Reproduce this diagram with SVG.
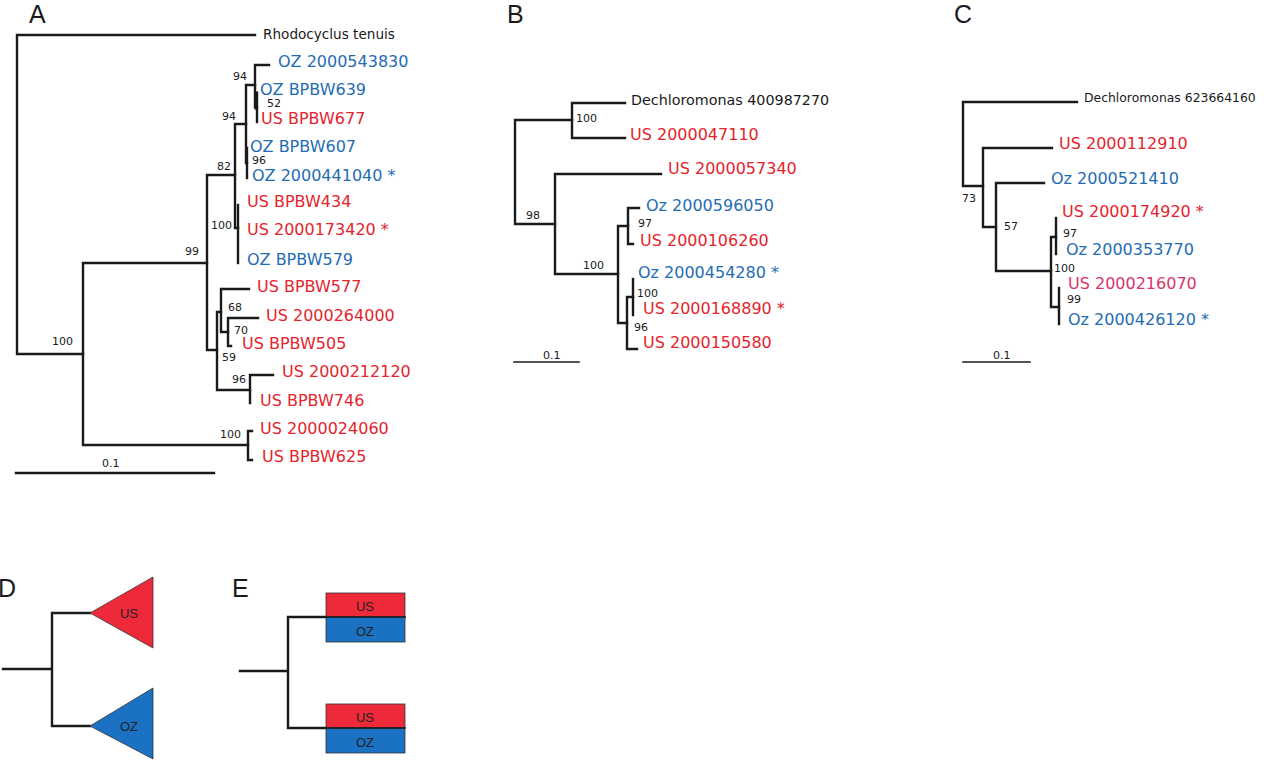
<svg xmlns="http://www.w3.org/2000/svg" width="1280" height="762" viewBox="0 0 1280 762">
<style>
.bg{fill:#ffffff}
.ln{fill:none;stroke:#1a1a1a;stroke-width:2.4;stroke-linecap:square}
.t{font-family:"DejaVu Sans",Verdana,sans-serif;font-size:16px}
.us{fill:#e5232c}
.oz{fill:#1f6cb5}
.pk{fill:#d9336a}
.bk{fill:#1a1a1a}
.bs{font-family:"DejaVu Sans",Verdana,sans-serif;font-size:11px;fill:#1a1a1a}
.pl{font-family:"Liberation Sans",Arial,sans-serif;font-size:25px;fill:#1a1a1a}
.tri{stroke:#333;stroke-width:0.8}
.box{font-family:"Liberation Sans",Arial,sans-serif;font-size:13px;fill:#222;text-anchor:middle}
</style>
<rect class="bg" x="0" y="0" width="1280" height="762"/>

<g id="panel-labels">
<text class="pl" x="29" y="23">A</text>
<text class="pl" x="507" y="23">B</text>
<text class="pl" x="954" y="23">C</text>
<text class="pl" x="-2" y="597">D</text>
<text class="pl" x="232" y="597">E</text>
</g>

<g id="connectors">
<!-- Panel A -->
<path class="ln" d="M17,35 H255 M17,35 V354 M17,354 H83"/>
<path class="ln" d="M83,263 V445 M83,263 H207 M83,445 H248"/>
<path class="ln" d="M248,431 V460 M248,431 H252 M248,460 H252"/>
<path class="ln" d="M207,175 V350 M207,175 H235 M207,350 H217"/>
<path class="ln" d="M235,124 V228 M235,228 H238 M235,124 H246"/>
<path class="ln" d="M238,205 V263"/>
<path class="ln" d="M246,85 V163 M246,85 H255 M246,163 H247"/>
<path class="ln" d="M247,148 V178"/>
<path class="ln" d="M255,65 V107 M255,65 H269 M255,107 H257"/>
<path class="ln" d="M257,93 V122"/>
<path class="ln" d="M256,93 V108" style="stroke-width:3.2"/>
<path class="ln" d="M217,312 V390 M217,312 H221 M217,390 H250"/>
<path class="ln" d="M221,289 V332 M221,289 H249 M221,332 H228"/>
<path class="ln" d="M228,318 V346 M228,318 H258 M228,346 H231"/>
<path class="ln" d="M250,375 V403 M250,375 H273"/>
<path class="ln" d="M16,473 H214"/>
<!-- Panel B -->
<path class="ln" d="M515,120 V224 M515,120 H572 M515,224 H555"/>
<path class="ln" d="M572,103 V138 M572,103 H625 M572,138 H625"/>
<path class="ln" d="M555,174 V274 M555,174 H661 M555,274 H618"/>
<path class="ln" d="M618,226 V323 M618,226 H628 M618,323 H627"/>
<path class="ln" d="M628,208 V244 M628,208 H639 M628,244 H633"/>
<path class="ln" d="M627,297 V349 M627,297 H633 M627,349 H637"/>
<path class="ln" d="M633,279 V315"/>
<path class="ln" d="M514,362 H579" style="stroke-width:1.6"/>
<!-- Panel C -->
<path class="ln" d="M963,102 V186 M963,102 H1077 M963,186 H983"/>
<path class="ln" d="M983,148 V227 M983,148 H1052 M983,227 H996"/>
<path class="ln" d="M996,183 V271 M996,183 H1044 M996,271 H1051"/>
<path class="ln" d="M1051,237 V307 M1051,237 H1056 M1051,307 H1059"/>
<path class="ln" d="M1056,218 V254"/>
<path class="ln" d="M1059,288 V324"/>
<path class="ln" d="M963,362 H1030" style="stroke-width:1.6"/>
<!-- Panel D -->
<path class="ln" d="M3,669 H52 M52,613 V726 M52,613 H90 M52,726 H90"/>
<!-- Panel E -->
<path class="ln" d="M240,671 H288 M288,617 V728 M288,617 H326 M288,728 H326"/>
</g>

<g id="panel-A-labels">
<text class="t bk" x="263" y="39" style="font-size:13.6px">Rhodocyclus tenuis</text>
<text class="t oz" x="278" y="67">OZ 2000543830</text>
<text class="t oz" x="260" y="95">OZ BPBW639</text>
<text class="t us" x="261" y="124">US BPBW677</text>
<text class="t oz" x="250" y="152">OZ BPBW607</text>
<text class="t oz" x="252" y="181">OZ 2000441040 *</text>
<text class="t us" x="247" y="207">US BPBW434</text>
<text class="t us" x="247" y="235">US 2000173420 *</text>
<text class="t oz" x="247" y="265">OZ BPBW579</text>
<text class="t us" x="257" y="292">US BPBW577</text>
<text class="t us" x="266" y="321">US 2000264000</text>
<text class="t us" x="242" y="349">US BPBW505</text>
<text class="t us" x="282" y="377">US 2000212120</text>
<text class="t us" x="260" y="406">US BPBW746</text>
<text class="t us" x="260" y="434">US 2000024060</text>
<text class="t us" x="262" y="462">US BPBW625</text>
<text class="bs" x="233" y="80">94</text>
<text class="bs" x="267" y="107">52</text>
<text class="bs" x="222" y="120">94</text>
<text class="bs" x="252" y="164">96</text>
<text class="bs" x="217" y="170">82</text>
<text class="bs" x="211" y="229">100</text>
<text class="bs" x="185" y="255">99</text>
<text class="bs" x="228" y="311">68</text>
<text class="bs" x="234" y="334">70</text>
<text class="bs" x="52" y="345">100</text>
<text class="bs" x="222" y="361">59</text>
<text class="bs" x="232" y="383">96</text>
<text class="bs" x="220" y="438">100</text>
<text class="bs" x="102" y="467">0.1</text>
</g>

<g id="panel-B-labels">
<text class="t bk" x="631" y="105" style="font-size:14.3px">Dechloromonas 400987270</text>
<text class="t us" x="630" y="140">US 2000047110</text>
<text class="t us" x="668" y="174">US 2000057340</text>
<text class="t oz" x="646" y="211">Oz 2000596050</text>
<text class="t us" x="640" y="246">US 2000106260</text>
<text class="t oz" x="638" y="278">Oz 2000454280 *</text>
<text class="t us" x="643" y="314">US 2000168890 *</text>
<text class="t us" x="643" y="348">US 2000150580</text>
<text class="bs" x="576" y="122">100</text>
<text class="bs" x="526" y="219">98</text>
<text class="bs" x="638" y="227">97</text>
<text class="bs" x="583" y="269">100</text>
<text class="bs" x="637" y="297">100</text>
<text class="bs" x="634" y="331">96</text>
<text class="bs" x="543" y="359">0.1</text>
</g>

<g id="panel-C-labels">
<text class="t bk" x="1084" y="102" style="font-size:12.4px">Dechloromonas 623664160</text>
<text class="t us" x="1059" y="149">US 2000112910</text>
<text class="t oz" x="1051" y="184">Oz 2000521410</text>
<text class="t us" x="1062" y="217">US 2000174920 *</text>
<text class="t oz" x="1066" y="255">Oz 2000353770</text>
<text class="t pk" x="1068" y="289">US 2000216070</text>
<text class="t oz" x="1068" y="325">Oz 2000426120 *</text>
<text class="bs" x="962" y="202">73</text>
<text class="bs" x="1004" y="230">57</text>
<text class="bs" x="1063" y="237">97</text>
<text class="bs" x="1054" y="272">100</text>
<text class="bs" x="1067" y="303">99</text>
<text class="bs" x="993" y="359">0.1</text>
</g>

<g id="node-D-US">
<polygon class="tri" points="90,613 153,577 153,648" fill="#ee2a3a"/>
<text class="box" x="129" y="618">US</text>
</g>
<g id="node-D-OZ">
<polygon class="tri" points="90,726 153,688 153,759" fill="#1b72c2"/>
<text class="box" x="129" y="731">OZ</text>
</g>

<g id="node-E-top">
<rect x="326" y="593" width="79" height="24" fill="#ee2a3a" stroke="#333" stroke-width="0.8"/>
<rect x="326" y="617" width="79" height="25" fill="#1b72c2" stroke="#333" stroke-width="0.8"/>
<text class="box" x="365" y="611">US</text>
<text class="box" x="365" y="636">OZ</text>
</g>
<g id="node-E-bottom">
<rect x="326" y="704" width="79" height="24" fill="#ee2a3a" stroke="#333" stroke-width="0.8"/>
<rect x="326" y="728" width="79" height="25" fill="#1b72c2" stroke="#333" stroke-width="0.8"/>
<text class="box" x="365" y="722">US</text>
<text class="box" x="365" y="747">OZ</text>
</g>
<path class="ln" d="M326,617 H405 M326,728 H405" style="stroke-width:1.6"/>
</svg>
